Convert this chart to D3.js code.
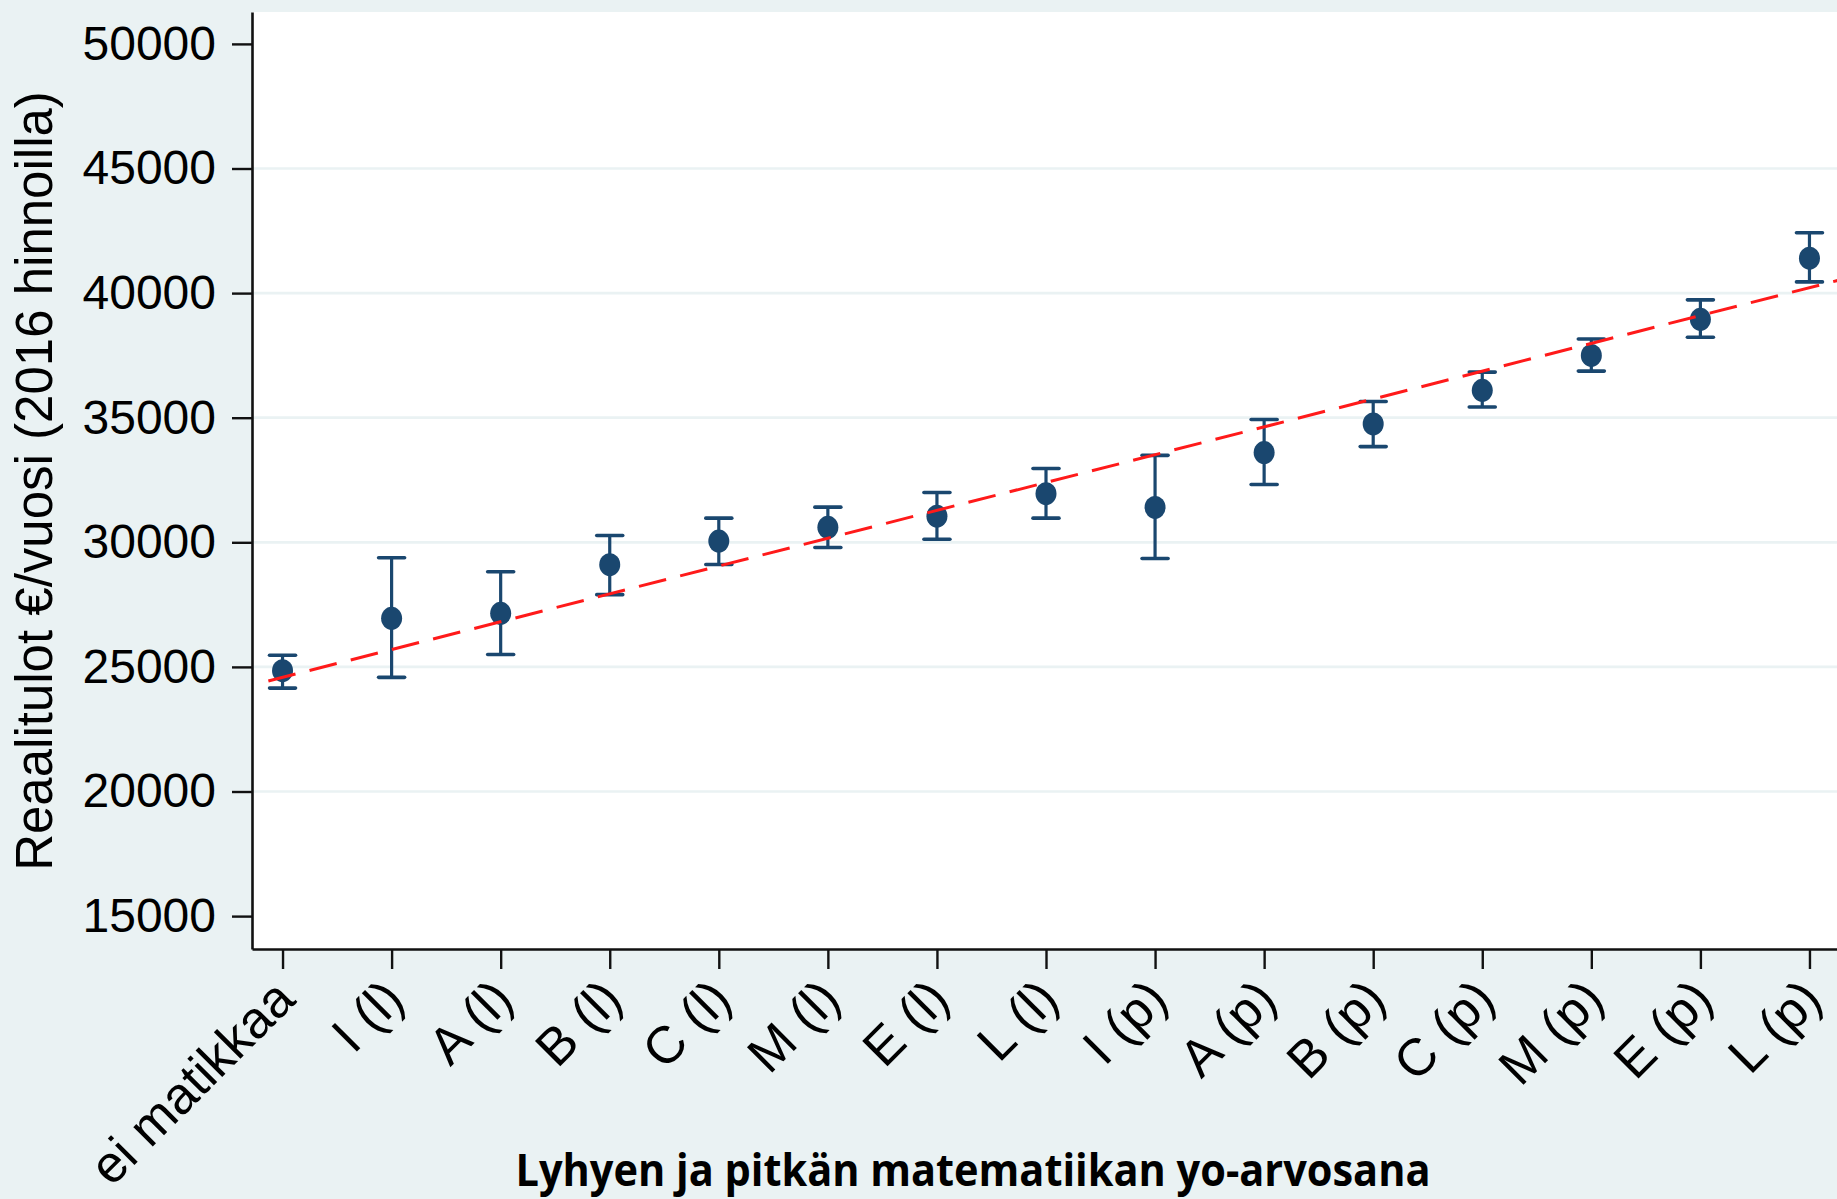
<!DOCTYPE html>
<html>
<head>
<meta charset="utf-8">
<script src="https://cdn.jsdelivr.net/npm/d3@7"></script>
<style>
  body { margin: 0; background: #eaf2f3; }
  svg { display: block; }
</style>
</head>
<body>
<div id="chart"></div>
<script>
// grades (short math "l", long math "p")
const categories = ["ei matikkaa", "I (l)", "A (l)", "B (l)", "C (l)", "M (l)", "E (l)", "L (l)",
                    "I (p)", "A (p)", "B (p)", "C (p)", "M (p)", "E (p)", "L (p)"];
const means = [24850, 26950, 27150, 29100, 30050, 30600, 31050, 31950, 31400, 33600, 34750, 36100, 37500, 38950, 41400];
const ciLow = [24150, 24580, 25500, 27900, 29110, 29790, 30120, 30970, 29350, 32320, 33840, 35430, 36870, 38230, 40450];
const ciHigh = [25470, 29380, 28820, 30270, 30970, 31410, 32000, 32960, 33490, 34930, 35650, 36830, 38160, 39730, 42420];
const yTicks = [15000, 20000, 25000, 30000, 35000, 40000, 45000, 50000];
const gridTicks = [20000, 25000, 30000, 35000, 40000, 45000];
// linear fit endpoints: [category position, income]
const fitLine = [[-0.13, 24435], [14.28, 40530]];

const width = 1837, height = 1199;
const margin = ({top: 12, right: -3, bottom: 250, left: 252});

const x = d3.scaleLinear([-0.28, 14.28], [margin.left, width - margin.right]);
const y = d3.scaleLinear([13680, 51280], [height - margin.bottom, margin.top]);

const navy = "#1a476f";
const font = "'Liberation Sans', Arial, sans-serif";

const svg = d3.select("#chart")
    .append("svg")
    .attr("width", width)
    .attr("height", height);

svg.append("rect")
    .attr("width", width)
    .attr("height", height)
    .attr("fill", "#eaf2f3");

svg.append("rect")
    .attr("x", margin.left)
    .attr("y", margin.top)
    .attr("width", width - margin.right - margin.left)
    .attr("height", height - margin.bottom - margin.top)
    .attr("fill", "#fff");

// gridlines
svg.append("g")
    .selectAll("line")
    .data(gridTicks)
    .join("line")
    .attr("x1", margin.left)
    .attr("x2", width - margin.right)
    .attr("y1", d => y(d))
    .attr("y2", d => y(d))
    .attr("stroke", "#eaf2f3")
    .attr("stroke-width", 2.7);

// error bars
const bars = svg.append("g")
    .attr("stroke", navy)
    .selectAll("g")
    .data(categories.map((c, i) => ({c, i, m: means[i], lo: ciLow[i], hi: ciHigh[i]})))
    .join("g");

bars.append("line")
    .attr("x1", d => x(d.i))
    .attr("x2", d => x(d.i))
    .attr("y1", d => y(d.lo))
    .attr("y2", d => y(d.hi))
    .attr("stroke-width", 3.2);

bars.selectAll("line.cap")
    .data(d => [d.lo, d.hi].map(v => ({i: d.i, v})))
    .join("line")
    .attr("class", "cap")
    .attr("x1", d => x(d.i) - 13)
    .attr("x2", d => x(d.i) + 13)
    .attr("y1", d => y(d.v))
    .attr("y2", d => y(d.v))
    .attr("stroke-width", 3.6)
    .attr("stroke-linecap", "round");

bars.append("ellipse")
    .attr("cx", d => x(d.i))
    .attr("cy", d => y(d.m))
    .attr("rx", 10.5)
    .attr("ry", 11.5)
    .attr("fill", navy)
    .attr("stroke", "none");

// fitted line
svg.append("path")
    .datum(fitLine)
    .attr("fill", "none")
    .attr("stroke", "#ff1a1a")
    .attr("stroke-width", 3)
    .attr("stroke-dasharray", "28,14.5")
    .attr("d", d3.line().x(d => x(d[0])).y(d => y(d[1])));

// axes
const yAxis = svg.append("g")
    .attr("transform", `translate(${margin.left},0)`)
    .call(d3.axisLeft(y).tickValues(yTicks).tickFormat(d3.format("d")).tickSize(20).tickSizeOuter(0).tickPadding(16));

const xAxis = svg.append("g")
    .attr("transform", `translate(0,${height - margin.bottom})`)
    .call(d3.axisBottom(x).tickValues(d3.range(categories.length)).tickSize(20).tickSizeOuter(0).tickFormat(""));

[yAxis, xAxis].forEach(g => {
    g.select(".domain").attr("stroke", "#111").attr("stroke-width", 2.6);
    g.selectAll(".tick line").attr("stroke", "#111").attr("stroke-width", 2.4);
});

yAxis.selectAll(".tick text")
    .attr("font-family", font)
    .attr("font-size", 48)
    .attr("fill", "#000");

// rotated category labels
svg.append("g")
    .attr("font-family", font)
    .attr("font-size", 52)
    .attr("text-anchor", "end")
    .selectAll("text")
    .data(categories)
    .join("text")
    .attr("transform", (d, i) => `translate(${x(i) + 2},${height - margin.bottom + 40}) rotate(-45)`)
    .attr("dy", "0.35em")
    .text(d => d);

// axis titles
svg.append("text")
    .attr("transform", `translate(52,481) rotate(-90)`)
    .attr("text-anchor", "middle")
    .attr("font-family", font)
    .attr("font-size", 51)
    .text("Reaalitulot €/vuosi (2016 hinnoilla)");

svg.append("text")
    .attr("x", 973)
    .attr("y", 1186)
    .attr("text-anchor", "middle")
    .attr("font-family", "'Open Sans', sans-serif")
    .attr("font-weight", "bold")
    .attr("font-size", 44)
    .attr("textLength", 915)
    .attr("lengthAdjust", "spacingAndGlyphs")
    .text("Lyhyen ja pitkän matematiikan yo-arvosana");
</script>
</body>
</html>
